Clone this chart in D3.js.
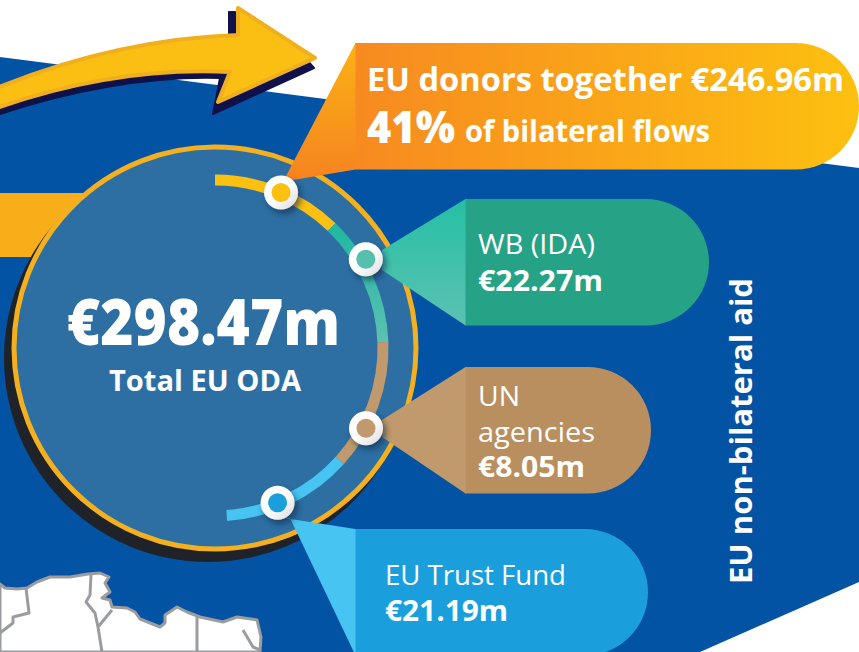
<!DOCTYPE html>
<html>
<head>
<meta charset="utf-8">
<style>
  html, body { margin: 0; padding: 0; background: #fff; }
  svg { display: block; }
  text { font-family: "Open Sans", sans-serif; fill: #fff; }
</style>
<script src="https://cdn.jsdelivr.net/npm/d3@7/dist/d3.min.js"></script>
</head>
<body>
<svg id="chart" width="859" height="652" viewBox="0 0 859 652"></svg>
<script>
const channels = ['EU donors together', 'WB (IDA)', 'UN agencies', 'EU Trust Fund'];
const amounts = [246.96, 22.27, 8.05, 21.19];
const bilateralShare = 41;
const totalLabel = 'Total EU ODA';
const sideLabel = 'EU non-bilateral aid';

const euro = (v) => `€${v.toFixed(2)}m`;
const total = d3.sum(amounts);

const svg = d3.select('#chart');
const defs = svg.append('defs');

function gradient(id, stops, x2, y2) {
  const g = defs.append('linearGradient')
    .attr('id', id)
    .attr('x1', 0).attr('y1', 0)
    .attr('x2', x2).attr('y2', y2);
  stops.forEach((c, i) => {
    g.append('stop').attr('offset', i / (stops.length - 1)).attr('stop-color', c);
  });
}
gradient('pill-orange', ['#f78a20', '#fdc010'], 1, 0);
gradient('tip-orange', ['#fbb215', '#f6831f'], 0, 1);
gradient('tip-teal', ['#25bfa5', '#5cc2b2'], 0, 1);
gradient('arc-teal', ['#1fb8a0', '#5cc1b2'], 0, 1);
gradient('dot-white', ['#ffffff', '#ffffff', '#d9d9dc'], 1, 1);

const dotShadow = defs.append('filter').attr('id', 'dot-shadow')
  .attr('x', '-50%').attr('y', '-50%').attr('width', '200%').attr('height', '200%');
dotShadow.append('feDropShadow')
  .attr('dx', 3).attr('dy', 4).attr('stdDeviation', 3)
  .attr('flood-color', '#0b2a4a').attr('flood-opacity', 0.65);

// blue backdrop
svg.append('path')
  .attr('d', 'M0,57 L859,168 L859,582 L700,652 L0,652 Z')
  .attr('fill', '#0353a4');

// map outline at the bottom left
const land = 'M0,584 L5,588 L17,589 L27,588 L37,582 L50,577 L70,577 L88,574 L100,573 L109,577 L105,583 L110,592 L102,598 L110,600 L112,607 L127,608 L135,612 L140,619 L160,627 L165,623 L165,615 L177,607 L187,612 L200,617 L223,622 L237,617 L257,620 L261,637 L260,652 L0,652 Z';
svg.append('path').attr('d', land)
  .attr('fill', '#fff').attr('stroke', '#9b9ca0').attr('stroke-width', 3).attr('stroke-linejoin', 'round');
svg.append('path')
  .attr('d', 'M26,588 L29,613 L13,617 L13,623 L0,633 M91,575 L90,595 L86,602 L95,613 L98,627 L102,652 M112,610 L98,627 M197,617 L197,652 M243,630 L253,647 L260,650')
  .attr('fill', 'none').attr('stroke', '#9b9ca0').attr('stroke-width', 3).attr('stroke-linejoin', 'round');

// band coming in from the left
svg.append('rect').attr('x', 0).attr('y', 193).attr('width', 110).attr('height', 64).attr('fill', '#f8ae18');

// big circle
const cx = 215;
const cy = 348;
svg.append('circle').attr('cx', cx - 7).attr('cy', cy + 10).attr('r', 204).attr('fill', '#1f2329');
svg.append('circle').attr('cx', cx).attr('cy', cy).attr('r', 201)
  .attr('fill', '#2d6fa3').attr('stroke', '#f4b01e').attr('stroke-width', 5);

// ring split in equal parts, one for each channel
const angle = d3.scaleLinear()
  .domain([0, channels.length])
  .range([0, (176 * Math.PI) / 180]);
const ringR = 168;
const ringArc = d3.arc().innerRadius(ringR - 5.5).outerRadius(ringR + 5.5);
const segColors = ['#fcc010', 'url(#arc-teal)', '#c09a6c', '#47c4f2'];
const ring = svg.append('g').attr('transform', `translate(${cx},${cy})`);
ring.selectAll('path')
  .data(channels)
  .join('path')
  .attr('d', (d, i) => ringArc({ startAngle: angle(i), endAngle: angle(i + 1) }))
  .attr('fill', (d, i) => segColors[i]);

// callouts
const pillX = [355, 465, 465, 355];
const pillY = [43, 199, 367, 529];
const pillW = [504, 244, 186, 293];
const pillH = 126.5;
const pillFill = ['url(#pill-orange)', '#26a287', '#b98f60', '#1a9fdc'];
const tipFill = ['url(#tip-orange)', 'url(#tip-teal)', '#c09a6c', '#47c4f2'];
const tipPoints = [
  [[285, 178], [293, 180]],
  [[382, 250], [382, 270]],
  [[382, 420], [382, 437]],
  [[284, 518], [290, 518]],
];

function pillPath(i) {
  const p = d3.path();
  const x = pillX[i];
  const y = pillY[i];
  const r = pillH / 2;
  const right = x + pillW[i] - r;
  p.moveTo(x, y);
  p.lineTo(right, y);
  p.arc(right, y + r, r, -Math.PI / 2, Math.PI / 2);
  p.lineTo(x, y + pillH);
  p.closePath();
  return p.toString();
}

function tipPath(i) {
  const [a, b] = tipPoints[i];
  return `M${pillX[i] + 0.5},${pillY[i]} L${a[0]},${a[1]} L${b[0]},${b[1]} L${pillX[i] + 0.5},${pillY[i] + pillH} Z`;
}

svg.append('g').selectAll('path')
  .data(channels)
  .join('path')
  .attr('d', (d, i) => pillPath(i))
  .attr('fill', (d, i) => pillFill[i]);

svg.append('g').selectAll('path')
  .data(channels)
  .join('path')
  .attr('d', (d, i) => tipPath(i))
  .attr('fill', (d, i) => tipFill[i]);

// dots on the ring
const dotAngle = [23, 59.5, 118, 158];
const dotR = [169, 175, 171, 167];
const dotFill = ['#fcc010', '#55c0ad', '#c09a6c', '#1a9fdc'];
const dots = svg.append('g').selectAll('g')
  .data(channels)
  .join('g')
  .attr('transform', (d, i) => {
    const [x, y] = d3.pointRadial((dotAngle[i] * Math.PI) / 180, dotR[i]);
    return `translate(${cx + x},${cy + y})`;
  });
dots.append('circle').attr('r', 17).attr('fill', 'url(#dot-white)').attr('filter', 'url(#dot-shadow)');
dots.append('circle').attr('r', 9.5).attr('fill', (d, i) => dotFill[i]);

// arrow, shadow first since it is not a plain offset of the shape
svg.append('path')
  .attr('d', 'M-6,116 C70,90 150,76 220,78 L213,114 L314,68 L305,58 L235,12 L229,12 L229,40 L-6,100 Z')
  .attr('fill', '#10114a').attr('stroke', '#10114a').attr('stroke-width', 2).attr('stroke-linejoin', 'round');
svg.append('path')
  .attr('d', 'M-6,89 C70,58 150,38 238,35 L238,8 L315,58 L218,102 L230,72 C150,68 70,82 -6,109 Z')
  .attr('fill', '#fbbe12').attr('stroke', '#f0b01e').attr('stroke-width', 4).attr('stroke-linejoin', 'round');

// labels
function label(str, x, y, size, weight, width) {
  const t = svg.append('text')
    .attr('x', x).attr('y', y)
    .attr('font-size', size).attr('font-weight', weight)
    .text(str);
  if (width) t.attr('textLength', width).attr('lengthAdjust', 'spacingAndGlyphs');
  return t;
}

label(`${channels[0]} ${euro(amounts[0])}`, 367, 91, 32, 700, 477);
label(`${bilateralShare}%`, 367, 143, 44, 800, 88);
label('of bilateral flows', 465, 142, 30, 700, 245);

label(euro(total), 67, 345, 63, 800, 273);
label(totalLabel, 109, 391, 28, 700, 192);

label(channels[1], 478, 254, 28, 400, 117);
label(euro(amounts[1]), 478, 291, 28, 700, 125);

label('UN', 478, 406, 28, 400, 42);
label('agencies', 478, 442, 28, 400, 117);
label(euro(amounts[2]), 478, 477, 28, 700, 107);

label(channels[3], 385, 585, 28, 400, 181);
label(euro(amounts[3]), 385, 621, 28, 700, 123);

svg.append('text')
  .attr('transform', 'translate(752,584) rotate(-90)')
  .attr('font-size', 31).attr('font-weight', 700)
  .attr('textLength', 306).attr('lengthAdjust', 'spacingAndGlyphs')
  .text(sideLabel);
</script>
</body>
</html>
